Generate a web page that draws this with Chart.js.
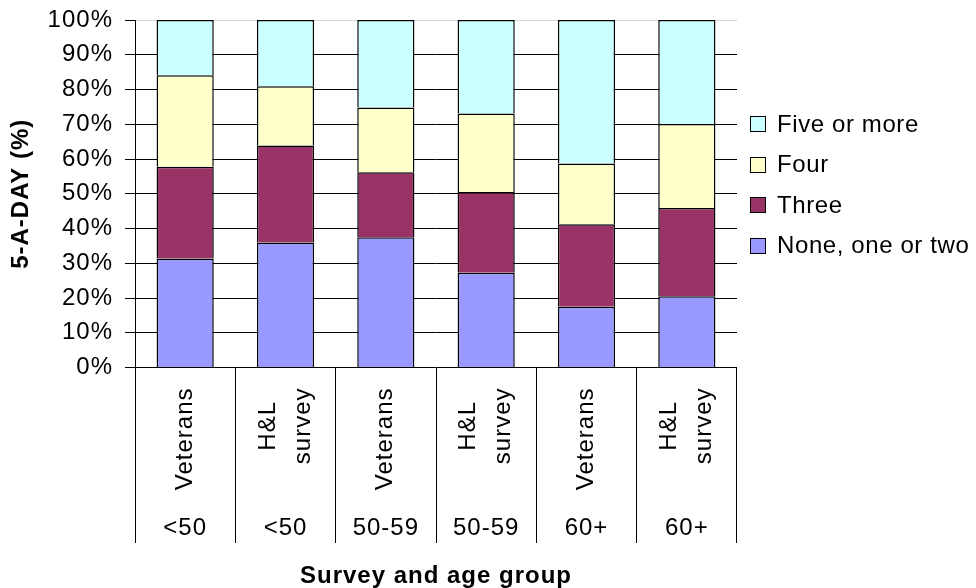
<!DOCTYPE html>
<html>
<head>
<meta charset="utf-8">
<script src="https://cdn.jsdelivr.net/npm/chart.js@4.4.1/dist/chart.umd.min.js"></script>
<style>
  html, body { margin: 0; padding: 0; background: #fff; }
  canvas { display: block; }
</style>
</head>
<body>
<canvas id="c" width="976" height="588"></canvas>
<script>
// ---- Data ----
const surveyLabels = [['Veterans'], ['H&L', 'survey'], ['Veterans'], ['H&L', 'survey'], ['Veterans'], ['H&L', 'survey']];
const ageGroups = ['<50', '<50', '50-59', '50-59', '60+', '60+'];
const seriesNames = ['None, one or two', 'Three', 'Four', 'Five or more'];
const noneOneTwo = [31.4, 36.0, 37.5, 27.3, 17.5, 20.5];
const three = [26.4, 27.9, 18.7, 23.2, 23.7, 25.4];
const four = [26.3, 17.0, 18.6, 22.6, 17.5, 24.2];
const fiveOrMore = [15.9, 19.1, 25.2, 26.9, 41.3, 29.9];
const yTitle = '5-A-DAY (%)';
const xTitle = 'Survey and age group';

const colors = ['#9999FF', '#993366', '#FFFFCC', '#CCFFFF'];
const FONT = "'Liberation Sans', Arial, sans-serif";

Chart.defaults.font.family = FONT;
Chart.defaults.font.size = 24;
Chart.defaults.color = '#000';

const spacingPlugin = {
  id: 'spacing',
  beforeUpdate(chart) { chart.ctx.letterSpacing = '1px'; },
  beforeLayout(chart) { chart.ctx.letterSpacing = '1px'; },
  beforeDraw(chart) { chart.ctx.letterSpacing = '1px'; }
};

const labelsPlugin = {
  id: 'surveyLabels',
  afterDraw(chart) {
    const ctx = chart.ctx;
    const xs = chart.scales.x;
    ctx.save();
    ctx.letterSpacing = '1px';
    ctx.font = '24px ' + FONT;
    ctx.fillStyle = '#000';
    ctx.textAlign = 'center';
    ctx.textBaseline = 'middle';
    const topY = 387.5;
    const lineGap = 35;
    surveyLabels.forEach((lines, i) => {
      const cx = xs.getPixelForValue(i);
      const maxW = Math.max(...lines.map(l => ctx.measureText(l).width));
      const cy = topY + maxW / 2;
      lines.forEach((line, j) => {
        const lx = cx + (j - (lines.length - 1) / 2) * lineGap;
        ctx.save();
        ctx.translate(lx, cy);
        ctx.rotate(-Math.PI / 2);
        ctx.fillText(line, 0, 0);
        ctx.restore();
      });
    });
    // legend (reverse order, like the original)
    ctx.letterSpacing = '0.6px';
    const ds = chart.data.datasets;
    const boxX = 750, boxS = 16, textX = 777;
    const rowY = [124, 164.5, 205, 245.5];
    for (let k = 0; k < ds.length; k++) {
      const d = ds[ds.length - 1 - k];
      const y = rowY[k];
      ctx.fillStyle = d.backgroundColor;
      ctx.fillRect(boxX, Math.round(y - boxS / 2), boxS, boxS);
      ctx.strokeStyle = '#000';
      ctx.lineWidth = 1;
      ctx.strokeRect(boxX + 0.5, Math.round(y - boxS / 2) + 0.5, boxS - 1, boxS - 1);
      ctx.fillStyle = '#000';
      ctx.textAlign = 'left';
      ctx.textBaseline = 'middle';
      ctx.fillText(d.label, textX, y + 1);
    }
    ctx.restore();
  }
};

const seriesValues = [noneOneTwo, three, four, fiveOrMore];

new Chart(document.getElementById('c'), {
  type: 'bar',
  data: {
    labels: ageGroups,
    datasets: seriesValues.map((vals, i) => ({
      label: seriesNames[i],
      data: vals,
      backgroundColor: colors[i],
      borderColor: '#000',
      borderWidth: 1.5,
      barPercentage: 0.57,
      categoryPercentage: 1.0
    }))
  },
  options: {
    responsive: false,
    animation: false,
    devicePixelRatio: 1,
    layout: { padding: { left: 0, right: 239, top: 20, bottom: 0 } },
    plugins: {
      legend: { display: false },
      tooltip: { enabled: false }
    },
    scales: {
      x: {
        stacked: true,
        offset: true,
        grid: {
          display: true, offset: true, drawOnChartArea: false, drawTicks: true,
          tickLength: 175.5, color: '#000', tickColor: '#000', lineWidth: 1
        },
        border: { display: false },
        ticks: {
          padding: -29.5, maxRotation: 0, minRotation: 0, autoSkip: false,
          color: '#000', font: { size: 24, lineHeight: 1.2 }
        },
        title: {
          display: true, text: xTitle, color: '#000',
          font: { size: 24, weight: 'bold', lineHeight: 1 },
          padding: { top: 0, bottom: 0 }
        },
        afterFit(scale) { scale.height = 220.5; scale.paddingLeft = 0; scale.paddingRight = 0; }
      },
      y: {
        stacked: true,
        min: 0, max: 100,
        ticks: {
          stepSize: 10, padding: 12, color: '#000',
          font: { size: 24 },
          callback: v => v + '%'
        },
        grid: {
          color: c => (c.tick && c.tick.value === 100) ? '#d4d4d4' : '#000',
          tickColor: '#000', tickLength: 10, lineWidth: 1
        },
        border: { display: true, color: '#000', width: 1 },
        title: {
          display: true, text: yTitle, color: '#000',
          font: { size: 24, weight: 'bold', lineHeight: 1 },
          padding: { top: 9, bottom: 0 }
        },
        afterFit(scale) { scale.width = 135; scale.paddingTop = 0; scale.paddingBottom = 0; }
      }
    }
  },
  plugins: [spacingPlugin, labelsPlugin]
});
</script>
</body>
</html>
